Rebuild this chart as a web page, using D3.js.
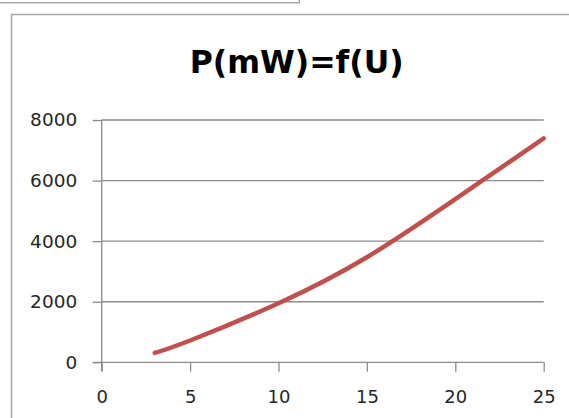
<!DOCTYPE html>
<html><head><meta charset="utf-8">
<script src="https://cdn.jsdelivr.net/npm/d3@7"></script>
<style>html,body{margin:0;padding:0;background:#fff;overflow:hidden}</style>
</head><body>
<script>
const titleText = "P(mW)=f(U)";
const uValues = [3, 5, 10, 15, 20, 25];
const pValues = [310, 720, 1950, 3470, 5390, 7390];
const xTicks = [0, 5, 10, 15, 20, 25];
const yTicks = [0, 2000, 4000, 6000, 8000];

const W = 569, H = 418;
const svg = d3.select("body").append("svg").attr("width", W).attr("height", H);

// outer frames
svg.append("path").attr("d", "M0,2.7H299.3V0").attr("fill", "none").attr("stroke", "#a6a6a6").attr("stroke-width", 1.5);
svg.append("path").attr("d", "M11.5,420V14.5H572").attr("fill", "none").attr("stroke", "#a6a6a6").attr("stroke-width", 1.5);

const x = d3.scaleLinear().domain([0, 25]).range([101.7, 543.7]);
const y = d3.scaleLinear().domain([0, 8000]).range([362.3, 120]);

const font = "DejaVu Sans, sans-serif";
const axisColor = "#8c8c8c";

// gridlines
svg.append("g").selectAll("line").data(yTicks.filter(d => d > 0)).join("line")
  .attr("x1", x(0)).attr("x2", x(25)).attr("y1", d => y(d)).attr("y2", d => y(d))
  .attr("stroke", axisColor).attr("stroke-width", 1.3);

// y axis
const gy = svg.append("g").attr("transform", `translate(${x(0)},0)`)
  .call(d3.axisLeft(y).tickValues(yTicks).tickSize(9).tickPadding(15.5).tickFormat(d3.format("d")));
gy.select(".domain").attr("stroke", axisColor).attr("stroke-width", 1.3).attr("d", `M0,${y(8000)}V${y(0)+9}`);
gy.selectAll(".tick line").attr("stroke", axisColor).attr("stroke-width", 1.3);
gy.selectAll("text").attr("font-family", font).attr("font-size", 18.5).attr("fill", "#262626");

// x axis
const gx = svg.append("g").attr("transform", `translate(0,${y(0)})`)
  .call(d3.axisBottom(x).tickValues(xTicks).tickSize(9.4).tickPadding(18.5).tickFormat(d3.format("d")));
gx.select(".domain").attr("stroke", axisColor).attr("stroke-width", 1.3).attr("d", `M${x(0)-9},0H${x(25)}`);
gx.selectAll(".tick line").attr("stroke", axisColor).attr("stroke-width", 1.3);
gx.selectAll("text").attr("font-family", font).attr("font-size", 18).attr("fill", "#262626");

// title
svg.append("text").attr("x", 296.7).attr("y", 73.3).attr("text-anchor", "middle")
  .attr("font-family", font).attr("font-weight", "bold").attr("font-size", 31.5).attr("fill", "#000")
  .text(titleText);

// series
const data = uValues.map((u, i) => [u, pValues[i]]);
svg.append("path").datum(data)
  .attr("d", d3.line().x(d => x(d[0])).y(d => y(d[1])).curve(d3.curveNatural))
  .attr("fill", "none").attr("stroke", "#c0504d").attr("stroke-width", 4.5)
  .attr("stroke-linecap", "round").attr("stroke-linejoin", "round");
</script>
</body></html>
